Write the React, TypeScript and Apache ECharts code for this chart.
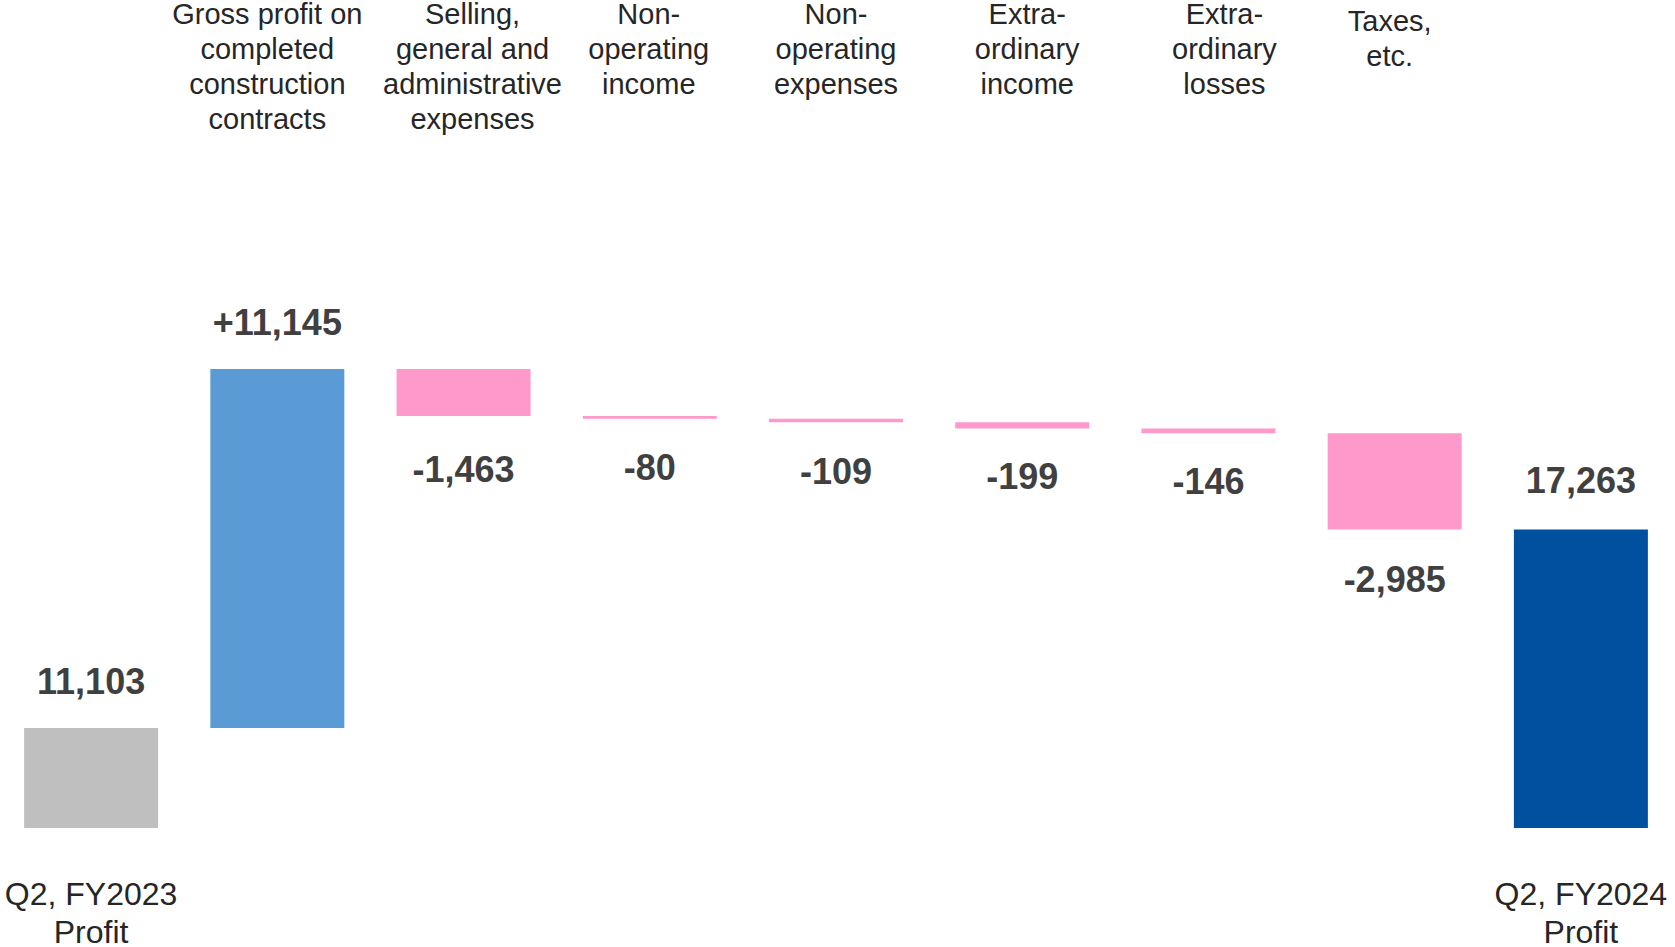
import React, { useEffect, useRef } from 'react';
import * as echarts from 'echarts';

// ---- data ----
const categories = [
  'Q2, FY2023 Profit',
  'Gross profit on completed construction contracts',
  'Selling, general and administrative expenses',
  'Non-operating income',
  'Non-operating expenses',
  'Extraordinary income',
  'Extraordinary losses',
  'Taxes, etc.',
  'Q2, FY2024 Profit',
];
const topLabels = [
  '',
  'Gross profit on\ncompleted\nconstruction\ncontracts',
  'Selling,\ngeneral and\nadministrative\nexpenses',
  'Non-\noperating\nincome',
  'Non-\noperating\nexpenses',
  'Extra-\nordinary\nincome',
  'Extra-\nordinary\nlosses',
  'Taxes,\netc.',
  '',
];
const bottomLabels = ['Q2, FY2023\nProfit', '', '', '', '', '', '', '', 'Q2, FY2024\nProfit'];
const startProfit = 11103;
const endProfit = 17263;
const changes = [11145, -1463, -80, -109, -199, -146, -2985];

// ---- styling (not data) ----
const topShift = [0, -10, 9, -1, 0, 5, 16, -5, 0];
const topDrop = [0, 0, 0, 0, 0, 0, 0, 7, 0];
const totalLabelDist = [29, 0, 0, 0, 0, 0, 0, 0, 31];
const decLabelDist = [0, 0, 35, 31, 31, 30, 30, 32, 0];
const FONT = '"Liberation Sans", Arial, sans-serif';

const fmt = (n: number) => Math.abs(n).toLocaleString('en-US');

export default function App() {
  const ref = useRef<HTMLDivElement>(null);
  useEffect(() => {
    if (!ref.current) return;
    const chart = echarts.init(ref.current, undefined, { renderer: 'svg' });

    const helper: any[] = ['-'];
    const inc: any[] = ['-'];
    const dec: any[] = ['-'];
    let run = startProfit;
    changes.forEach((c) => {
      if (c >= 0) {
        helper.push(run);
        inc.push(c);
        dec.push('-');
      } else {
        helper.push(run + c);
        inc.push('-');
        dec.push(-c);
      }
      run += c;
    });
    helper.push('-');
    inc.push('-');
    dec.push('-');
    const totals: any[] = [startProfit, ...changes.map(() => '-'), endProfit];

    const labelStyle = {
      fontFamily: FONT,
      fontSize: 36,
      fontWeight: 'bold',
      color: '#404040',
    };

    chart.setOption({
      animation: false,
      textStyle: { fontFamily: FONT },
      grid: {
        left: -2,
        width: 1676,
        top: 0,
        bottom: 119,
        containLabel: false,
        outerBoundsMode: 'none',
      },
      xAxis: [
        {
          type: 'category',
          position: 'bottom',
          data: categories,
          axisLine: { show: false },
          axisTick: { show: false },
          axisLabel: {
            interval: 0,
            margin: 47,
            fontSize: 32,
            lineHeight: 38,
            color: '#262626',
            fontFamily: FONT,
            formatter: (_v: string, i: number) => bottomLabels[i],
          },
        },
        {
          type: 'category',
          position: 'top',
          data: categories.map((c, i) => ({
            value: c,
            textStyle: {
              padding: [
                topDrop[i],
                topShift[i] < 0 ? -2 * topShift[i] : 0,
                0,
                topShift[i] > 0 ? 2 * topShift[i] : 0,
              ],
            },
          })),
          axisLine: { show: false },
          axisTick: { show: false },
          axisLabel: {
            inside: true,
            interval: 0,
            margin: -4,
            fontSize: 29,
            lineHeight: 35,
            color: '#262626',
            fontFamily: FONT,
            formatter: (_v: string, i: number) => topLabels[i],
          },
        },
      ],
      yAxis: { type: 'value', min: 8000, max: 33700, show: false },
      series: [
        {
          name: 'helper',
          type: 'bar',
          stack: 'wf',
          barWidth: 134,
          barGap: '-100%',
          silent: true,
          itemStyle: { color: 'rgba(0,0,0,0)' },
          data: helper,
          clip: true,
        },
        {
          name: 'increase',
          type: 'bar',
          stack: 'wf',
          barWidth: 134,
          barGap: '-100%',
          itemStyle: { color: '#5B9BD5' },
          label: {
            show: true,
            position: 'top',
            distance: 28,
            ...labelStyle,
            formatter: (p: any) => '+' + fmt(p.value),
          },
          data: inc,
          clip: true,
        },
        {
          name: 'decrease',
          type: 'bar',
          stack: 'wf',
          barWidth: 134,
          barGap: '-100%',
          itemStyle: { color: '#FF99CC' },
          label: {
            show: true,
            position: 'bottom',
            distance: 31,
            ...labelStyle,
            formatter: (p: any) => '-' + fmt(p.value),
          },
          data: dec.map((v, i) =>
            v === '-' ? '-' : { value: v, label: { distance: decLabelDist[i] } }
          ),
          clip: true,
        },
        {
          name: 'total',
          type: 'bar',
          barWidth: 134,
          barGap: '-100%',
          itemStyle: {
            color: (p: any) => (p.dataIndex === 0 ? '#BFBFBF' : '#0050A0'),
          },
          label: {
            show: true,
            position: 'top',
            ...labelStyle,
            formatter: (p: any) => fmt(p.value),
          },
          data: totals.map((v, i) =>
            v === '-' ? '-' : { value: v, label: { distance: totalLabelDist[i] } }
          ),
          clip: true,
        },
      ],
    });

    return () => chart.dispose();
  }, []);

  return (
    <div
      ref={ref}
      style={{ position: 'fixed', left: 0, top: 0, width: 1675, height: 947, background: '#fff' }}
    />
  );
}
